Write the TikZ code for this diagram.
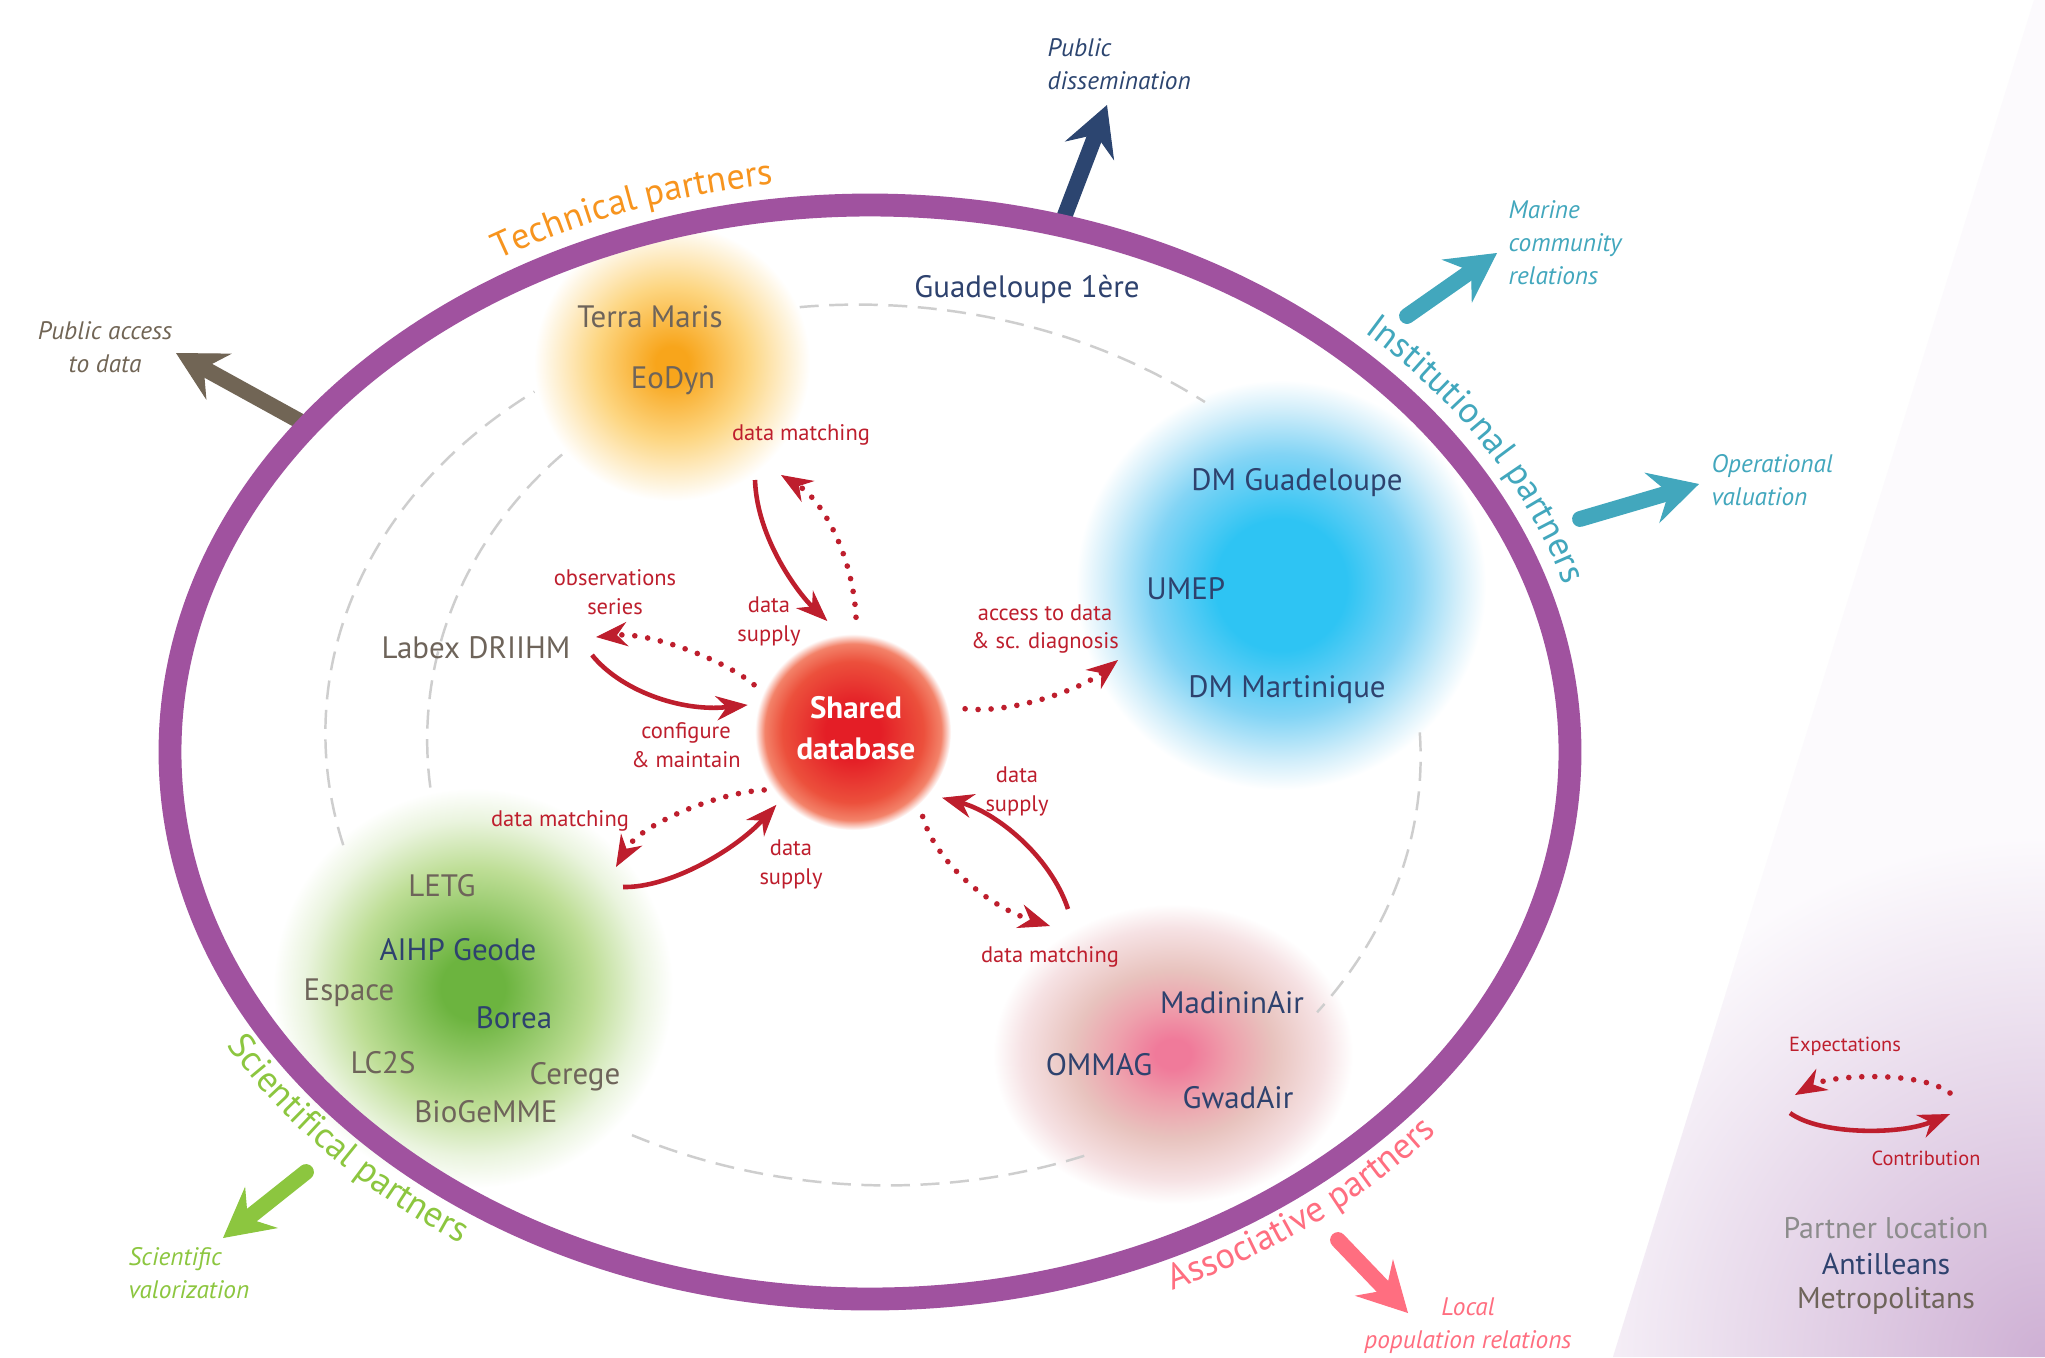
\documentclass[tikz,border=0pt]{standalone}
\usepackage{fontspec}
\setmainfont{PT Sans}
\usetikzlibrary{arrows.meta, decorations.text}
\definecolor{ring-purple}{RGB}{160,82,159}
\definecolor{tech-orange}{RGB}{247,148,30}
\definecolor{inst-teal}{RGB}{66,167,189}
\definecolor{sci-green}{RGB}{140,198,63}
\definecolor{asso-pink}{RGB}{255,110,128}
\definecolor{flow-red}{RGB}{190,30,45}
\definecolor{antil-blue}{RGB}{46,66,110}
\definecolor{metro-gray}{RGB}{110,100,90}
\definecolor{loc-gray}{RGB}{140,140,140}
\definecolor{dash-gray}{RGB}{206,206,206}
\definecolor{access-brown}{RGB}{113,101,85}
\definecolor{dissem-blue}{RGB}{44,69,112}
\definecolor{legend-purple}{RGB}{206,176,212}
\definecolor{legend-tint}{RGB}{252,250,253}
\definecolor{or-core}{RGB}{248,165,27}
\definecolor{or-mid}{RGB}{253,214,130}
\definecolor{or-edge}{RGB}{254,240,210}
\definecolor{bl-core}{RGB}{46,196,243}
\definecolor{bl-mid}{RGB}{130,212,245}
\definecolor{bl-edge}{RGB}{210,238,250}
\definecolor{gr-core}{RGB}{108,180,63}
\definecolor{gr-mid}{RGB}{190,222,150}
\definecolor{gr-edge}{RGB}{234,244,222}
\definecolor{rd-core}{RGB}{228,30,38}
\definecolor{rd-mid}{RGB}{236,80,60}
\definecolor{rd-edge}{RGB}{243,130,105}
\definecolor{pk-core}{RGB}{240,122,154}
\definecolor{pk-rose}{RGB}{238,160,172}
\definecolor{pk-mid}{RGB}{232,195,190}
\definecolor{pk-edge}{RGB}{246,226,228}
\pgfdeclareradialshading{blobOrange}{\pgfpoint{0bp}{0bp}}{color(0bp)=(or-core); color(3bp)=(or-core); color(14bp)=(or-mid); color(21bp)=(or-edge); color(25bp)=(white); color(50bp)=(white)}
\pgfdeclareradialshading{blobBlue}{\pgfpoint{0bp}{0bp}}{color(0bp)=(bl-core); color(8bp)=(bl-core); color(16bp)=(bl-mid); color(21.5bp)=(bl-edge); color(25bp)=(white); color(50bp)=(white)}
\pgfdeclareradialshading{blobGreen}{\pgfpoint{0bp}{0bp}}{color(0bp)=(gr-core); color(4bp)=(gr-core); color(15bp)=(gr-mid); color(21bp)=(gr-edge); color(25bp)=(white); color(50bp)=(white)}
\pgfdeclareradialshading{blobRed}{\pgfpoint{0bp}{0bp}}{color(0bp)=(rd-core); color(7bp)=(rd-core); color(18bp)=(rd-mid); color(22.5bp)=(rd-edge); color(25bp)=(white); color(50bp)=(white)}
\pgfdeclareradialshading{blobPink}{\pgfpoint{0bp}{0bp}}{color(0bp)=(pk-core); color(2.5bp)=(pk-core); color(8bp)=(pk-rose); color(14bp)=(pk-mid); color(21bp)=(pk-edge); color(25bp)=(white); color(50bp)=(white)}
\pgfdeclareradialshading{cornerGlow}{\pgfpoint{0bp}{0bp}}{color(0bp)=(legend-purple); color(25bp)=(legend-tint); color(50bp)=(legend-tint)}
\newcommand\ringfont{\fontsize{10.3}{12.5}\selectfont}

\begin{document}
\begin{tikzpicture}[x=0.01cm, y=-0.01cm,
  metro/.style={anchor=base, inner sep=0pt, text=metro-gray, font=\fontsize{8.8}{10.5}\selectfont},
  antil/.style={anchor=base, inner sep=0pt, text=antil-blue, font=\fontsize{8.8}{10.5}\selectfont},
  flowlbl/.style={inner sep=0pt, align=center, text=flow-red, font=\fontsize{6.4}{8.2}\selectfont},
  outlbl/.style={inner sep=0pt, font=\itshape\fontsize{7.2}{9.4}\selectfont},
  bigarrow/.style={line width=4.5pt, -{Stealth[length=14pt, width=15pt, inset=5pt, line width=0.3pt]}},
  supply/.style={flow-red, line width=1.3pt, -{Stealth[length=9pt, width=7pt, inset=3pt, line width=0.3pt]}},
  matching/.style={flow-red, line width=1.6pt, line cap=round, dash pattern=on 0pt off 3.7pt,
                   -{Stealth[length=9pt, width=7pt, inset=3pt, line width=0.3pt]}},
  guide/.style={dash-gray, line width=0.7pt, dash pattern=on 5.4pt off 3pt},
  ringlbl/.style={decorate, decoration={text along path, text align={center}, text={#1}}}
]
  \useasboundingbox (0,0) rectangle (2045,1357);
  \fill[white] (0,0) rectangle (2045,1357);
  \begin{scope}
    \clip (2034,0) -- (2045,0) -- (2045,1357) -- (1613,1357) -- cycle;
    \fill[legend-tint] (1600,0) rectangle (2045,1357);
    \shade[shading=cornerGlow] (2045,1357) circle [radius=520];
  \end{scope}

  \shade[shading=blobOrange] (672,363) circle [radius=138];
  \shade[shading=blobBlue]   (1281,585) circle [radius=205];
  \shade[shading=blobGreen]  (473,988) circle [radius=200];
  \shade[shading=blobPink]   (1173,1054) ellipse [x radius=180, y radius=150];
  \shade[shading=blobRed]    (853,732) circle [radius=98];

  \begin{scope}[rotate around={-3.5:(873,745)}]
    \draw[guide] ({873+548*cos(259.5)},{745+440*sin(259.5)}) arc[start angle=259.5, end angle=304.5, x radius=548, y radius=440];
    \draw[guide] ({873+548*cos(-6)},{745+440*sin(-6)}) arc[start angle=-6, end angle=33, x radius=548, y radius=440];
    \draw[guide] ({873+548*cos(64.5)},{745+440*sin(64.5)}) arc[start angle=64.5, end angle=113.3, x radius=548, y radius=440];
    \draw[guide] ({873+548*cos(162.5)},{745+440*sin(162.5)}) arc[start angle=162.5, end angle=229, x radius=548, y radius=440];
    \draw[guide] ({873+446*cos(170)},{745+400*sin(170)}) arc[start angle=170, end angle=224, x radius=446, y radius=400];
  \end{scope}

  \coordinate (acc-tail) at (305,424);
  \coordinate (acc-tip)  at (176,353);
  \coordinate (dis-tail) at (1060,228);
  \coordinate (dis-tip)  at (1107,105);
  \coordinate (mar-tail) at (1407,316);
  \coordinate (mar-tip)  at (1497,253);
  \coordinate (ope-tail) at (1580,519);
  \coordinate (ope-tip)  at (1699,484);
  \coordinate (sci-tail) at (306,1172);
  \coordinate (sci-tip)  at (223,1238);
  \coordinate (loc-tail) at (1338,1240);
  \coordinate (loc-tip)  at (1408,1313);
  \draw[bigarrow, access-brown] (acc-tail) -- (acc-tip);
  \draw[bigarrow, dissem-blue] (dis-tail) -- (dis-tip);
  \draw[bigarrow, inst-teal, line cap=round] (mar-tail) -- (mar-tip);
  \draw[bigarrow, inst-teal, line cap=round] (ope-tail) -- (ope-tip);
  \draw[bigarrow, sci-green, line cap=round] (sci-tail) -- (sci-tip);
  \draw[bigarrow, asso-pink, line cap=round] (loc-tail) -- (loc-tip);

  \draw[ring-purple, line width=6.5pt] (870,752) ellipse [x radius=700, y radius=547];

  \path[ringlbl={|\ringfont\color{tech-orange}|Technical partners}]
    ({870+726*cos(230)},{752+573*sin(230)}) arc[start angle=230, end angle=271, x radius=726, y radius=573];
  \path[ringlbl={|\ringfont\color{inst-teal}|Institutional partners}]
    ({870+726*cos(306)},{752+573*sin(306)}) arc[start angle=306, end angle=351, x radius=726, y radius=573];
  \path[ringlbl={|\ringfont\color{sci-green}|Scientifical partners}]
    ({870+742*cos(161)},{752+589*sin(161)}) arc[start angle=161, end angle=114, x radius=742, y radius=589];
  \path[ringlbl={|\ringfont\color{asso-pink}|Associative partners}]
    ({870+742*cos(75)},{752+589*sin(75)}) arc[start angle=75, end angle=30, x radius=742, y radius=589];

  \node[outlbl, text=access-brown, align=center] (access) at (105,347) {Public access\\to data};
  \node[outlbl, text=dissem-blue, align=left, anchor=west] (dissem) at (1047,64) {Public\\dissemination};
  \node[outlbl, text=inst-teal, align=left, anchor=west] (marine) at (1508,243) {Marine\\community\\relations};
  \node[outlbl, text=inst-teal, align=left, anchor=west] (operat) at (1711,480) {Operational\\valuation};
  \node[outlbl, text=sci-green, align=left, anchor=west] (scival) at (128,1273) {Scientific\\valorization};
  \node[outlbl, text=asso-pink, align=center] (locpop) at (1468,1326) {Local\\population relations};

  \node[metro] (terra)  at (650,327)  {Terra Maris};
  \node[metro] (eodyn)  at (673,388)  {EoDyn};
  \node[antil] (guad1)  at (1027,297) {Guadeloupe 1ère};
  \node[antil] (dmguad) at (1297,490) {DM Guadeloupe};
  \node[antil] (umep)   at (1186,599) {UMEP};
  \node[antil] (dmmart) at (1287,697) {DM Martinique};
  \node[metro] (labex)  at (476,658)  {Labex DRIIHM};
  \node[metro] (letg)   at (442,896)  {LETG};
  \node[antil] (aihp)   at (458,960)  {AIHP Geode};
  \node[metro] (espace) at (349,1000) {Espace};
  \node[antil] (borea)  at (514,1028) {Borea};
  \node[metro] (lc2s)   at (383,1073) {LC2S};
  \node[metro] (cerege) at (575,1084) {Cerege};
  \node[metro] (biogem) at (486,1122) {BioGeMME};
  \node[antil] (madin)  at (1232,1013) {MadininAir};
  \node[antil] (ommag)  at (1099,1075) {OMMAG};
  \node[antil] (gwad)   at (1238,1108) {GwadAir};

  \node[circle, minimum size=2.2cm, inner sep=0pt, align=center, text=white,
        font=\bfseries\fontsize{8.8}{11.8}\selectfont] (db) at (856,728) {Shared\\database};

  \coordinate (tm-a)  at (755,480);
  \coordinate (tm-b)  at (781,475);
  \coordinate (lab-a) at (596,637);
  \coordinate (lab-b) at (592,655);
  \coordinate (ume-a) at (1118,660);
  \coordinate (grn-a) at (616,867);
  \coordinate (grn-b) at (623,887);
  \coordinate (pnk-a) at (1050,926);
  \coordinate (pnk-b) at (1068,909);

  \draw[supply]   (tm-a) .. controls (757,540) and (800,595) .. (db.105);
  \draw[matching] (db.90) .. controls (853,555) and (822,500) .. (tm-b);
  \draw[matching] (db.157) .. controls (725,660) and (650,632) .. (lab-a);
  \draw[supply]   (lab-b) .. controls (620,690) and (680,712) .. (db.168);
  \draw[matching] (db.10) .. controls (1010,714) and (1080,690) .. (ume-a);
  \draw[matching] (db.214) .. controls (715,793) and (640,825) .. (grn-a);
  \draw[supply]   (grn-b) .. controls (670,888) and (735,850) .. (db.224);
  \draw[matching] (db.307) .. controls (935,860) and (985,905) .. (pnk-a);
  \draw[supply]   (pnk-b) .. controls (1050,855) and (995,812) .. (db.321);

  \node[flowlbl] (l-tm-m)  at (801,435)  {data matching};
  \node[flowlbl] (l-tm-s)  at (769,621)  {data\\supply};
  \node[flowlbl] (l-lab-o) at (615,592)  {observations\\series};
  \node[flowlbl] (l-lab-c) at (686,745)  {configure\\\& maintain};
  \node[flowlbl] (l-ume)   at (1045,629) {access to data\\\& sc. diagnosis};
  \node[flowlbl] (l-grn-m) at (560,821)  {data matching};
  \node[flowlbl] (l-grn-s) at (791,864)  {data\\supply};
  \node[flowlbl] (l-pnk-s) at (1017,791) {data\\supply};
  \node[flowlbl] (l-pnk-m) at (1050,957) {data matching};

  \coordinate (exp-a) at (1950,1093);
  \coordinate (exp-b) at (1795,1095);
  \coordinate (con-a) at (1790,1113);
  \coordinate (con-b) at (1950,1114);
  \draw[matching] (exp-a) .. controls (1920,1070) and (1830,1075) .. (exp-b);
  \draw[supply]   (con-a) .. controls (1820,1135) and (1900,1135) .. (con-b);
  \node[flowlbl, font=\fontsize{5.8}{7}\selectfont] (expect) at (1845,1046) {Expectations};
  \node[flowlbl, font=\fontsize{5.8}{7}\selectfont] (contrib) at (1926,1158) {Contribution};
  \node[inner sep=0pt, text=loc-gray, font=\fontsize{8.5}{10.4}\selectfont] (ploc) at (1886,1228) {Partner location};
  \node[inner sep=0pt, text=antil-blue, font=\fontsize{8.5}{10.4}\selectfont] (lantil) at (1886,1264) {Antilleans};
  \node[inner sep=0pt, text=metro-gray, font=\fontsize{8.5}{10.4}\selectfont] (lmetro) at (1886,1301) {Metropolitans};
\end{tikzpicture}
\end{document}
